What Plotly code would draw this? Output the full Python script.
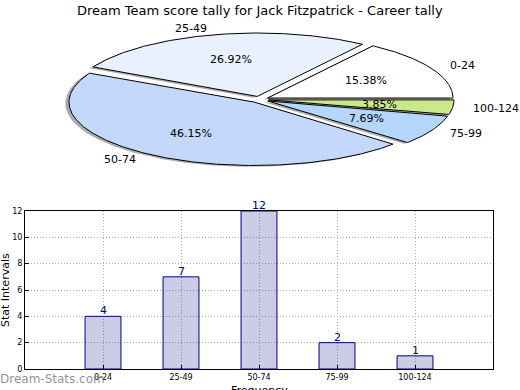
import numpy as np
import plotly.graph_objects as go

# ---- data ----
categories = ["0-24", "25-49", "50-74", "75-99", "100-124"]
counts = [4, 7, 12, 2, 1]
slice_colors = ["#ffffff", "#eaf1fe", "#c4d8fc", "#b4d5fc", "#cce98a"]
y_ticks = [0, 2, 4, 6, 8, 10, 12]
title_text = "Dream Team score tally for Jack Fitzpatrick - Career tally"

W, H = 520, 390
FONT = "DejaVu Sans"

# pie geometry (pixels)
CX, CY, RX, RY = 259.5, 99.5, 185.3, 63.4
EXPLODE = 0.05
PIE_TOP, PIE_BOT = 18, 182

# bar plot area (pixels)
BX0, BX1, BY0, BY1 = 25, 493, 211, 369

fig = go.Figure()

# pie axes mapping: unit circle -> ellipse
px_range = [(0 - CX) / RX, (W - CX) / RX]
py_range = [(CY - PIE_BOT) / RY, (CY - PIE_TOP) / RY]

total = sum(counts)
fracs = [c / total for c in counts]
starts = np.concatenate([[0.0], np.cumsum(fracs)[:-1]]) * 360
ends = np.cumsum(fracs) * 360

def wedge(a0, a1, ox, oy):
    t = np.radians(np.linspace(a0, a1, max(int(a1 - a0) * 2, 8)))
    xs = np.concatenate([[ox], ox + np.cos(t), [ox]])
    ys = np.concatenate([[oy], oy + np.sin(t), [oy]])
    return xs, ys

# shadows
for a0, a1 in zip(starts, ends):
    m = np.radians((a0 + a1) / 2)
    ox, oy = EXPLODE * np.cos(m) - 0.02, EXPLODE * np.sin(m) - 0.02
    xs, ys = wedge(a0, a1, ox, oy)
    fig.add_trace(go.Scatter(x=xs, y=ys, fill="toself", mode="lines",
                             fillcolor="rgba(90,90,90,0.5)", line=dict(width=0),
                             hoverinfo="skip", showlegend=False,
                             xaxis="x", yaxis="y"))

annotations = []
for cat, f, a0, a1, col in zip(categories, fracs, starts, ends, slice_colors):
    m = np.radians((a0 + a1) / 2)
    ox, oy = EXPLODE * np.cos(m), EXPLODE * np.sin(m)
    xs, ys = wedge(a0, a1, ox, oy)
    fig.add_trace(go.Scatter(x=xs, y=ys, fill="toself", mode="lines",
                             fillcolor=col, line=dict(color="black", width=1),
                             hoverinfo="skip", showlegend=False,
                             xaxis="x", yaxis="y"))
    lx, ly = ox + 1.1 * np.cos(m), oy + 1.1 * np.sin(m)
    annotations.append(dict(x=lx, y=ly, xref="x", yref="y", text=cat,
                            showarrow=False,
                            xanchor="left" if lx > 0 else "right",
                            yanchor="middle",
                            font=dict(family=FONT, size=11, color="black")))
    tx, ty = ox + 0.6 * np.cos(m), oy + 0.6 * np.sin(m)
    annotations.append(dict(x=tx, y=ty, xref="x", yref="y",
                            text=f"{f*100:.2f}%", showarrow=False,
                            xanchor="center", yanchor="middle",
                            font=dict(family=FONT, size=11, color="black")))

# bars
xi = list(range(len(categories)))
fig.add_trace(go.Bar(x=xi, y=counts, width=0.46,
                     marker=dict(color="rgba(0,0,128,0.2)",
                                 line=dict(color="#000080", width=1)),
                     showlegend=False, hoverinfo="skip",
                     xaxis="x2", yaxis="y2"))

# value labels sitting on the bar tops
for x, c in zip(xi, counts):
    annotations.append(dict(x=x, y=c, xref="x2", yref="y2", text=str(c),
                            showarrow=False, xanchor="center",
                            yanchor="bottom", yshift=-3,
                            font=dict(family=FONT, size=11, color="#000080")))

annotations += [
    dict(x=0.5, y=1 - 10 / H, xref="paper", yref="paper", text=title_text,
         showarrow=False, xanchor="center", yanchor="middle",
         font=dict(family=FONT, size=13, color="black")),
    dict(x=5 / W, y=1 - 290 / H, xref="paper", yref="paper",
         text="Stat Intervals", textangle=-90, showarrow=False,
         xanchor="center", yanchor="middle",
         font=dict(family=FONT, size=11, color="black")),
    dict(x=(BX0 + BX1) / 2 / W, y=1 - 390 / H, xref="paper", yref="paper",
         text="Frequency", showarrow=False, xanchor="center", yanchor="middle",
         font=dict(family=FONT, size=11, color="black")),
    dict(x=-2 / W, y=1 - 379 / H, xref="paper", yref="paper",
         text="Dream-Stats.com", showarrow=False, xanchor="left",
         yanchor="middle",
         font=dict(family=FONT, size=12, color="rgba(125,125,125,0.85)")),
]

grid = dict(showgrid=True, gridcolor="#aaaaaa", griddash="1px,2px",
            gridwidth=1, zeroline=False, automargin=False,
            showline=True, linecolor="black", linewidth=1, mirror=True,
            ticks="inside", ticklen=4, tickcolor="black", fixedrange=True)

fig.update_layout(
    width=W, height=H, autosize=False,
    margin=dict(l=0, r=0, t=0, b=0, pad=0, autoexpand=False),
    paper_bgcolor="white", plot_bgcolor="rgba(0,0,0,0)",
    font=dict(family=FONT, color="black"),
    showlegend=False,
    annotations=annotations,
    xaxis=dict(domain=[0, 1], range=px_range, visible=False, fixedrange=True,
               automargin=False),
    yaxis=dict(domain=[1 - PIE_BOT / H, 1 - PIE_TOP / H], range=py_range,
               visible=False, fixedrange=True, automargin=False),
    xaxis2=dict(domain=[BX0 / W, BX1 / W], anchor="y2", range=[-1, 5],
                tickvals=xi, ticktext=categories,
                tickfont=dict(family=FONT, size=8, color="black"), **grid),
    yaxis2=dict(domain=[1 - BY1 / H, 1 - BY0 / H], anchor="x2", range=[0, 12],
                tickvals=y_ticks,
                tickfont=dict(family=FONT, size=8, color="black"), **grid),
)

fig.write_html(
    "out.html",
    config={"displayModeBar": False},
    post_script="document.body.style.margin='0';document.body.style.overflow='hidden';",
)
